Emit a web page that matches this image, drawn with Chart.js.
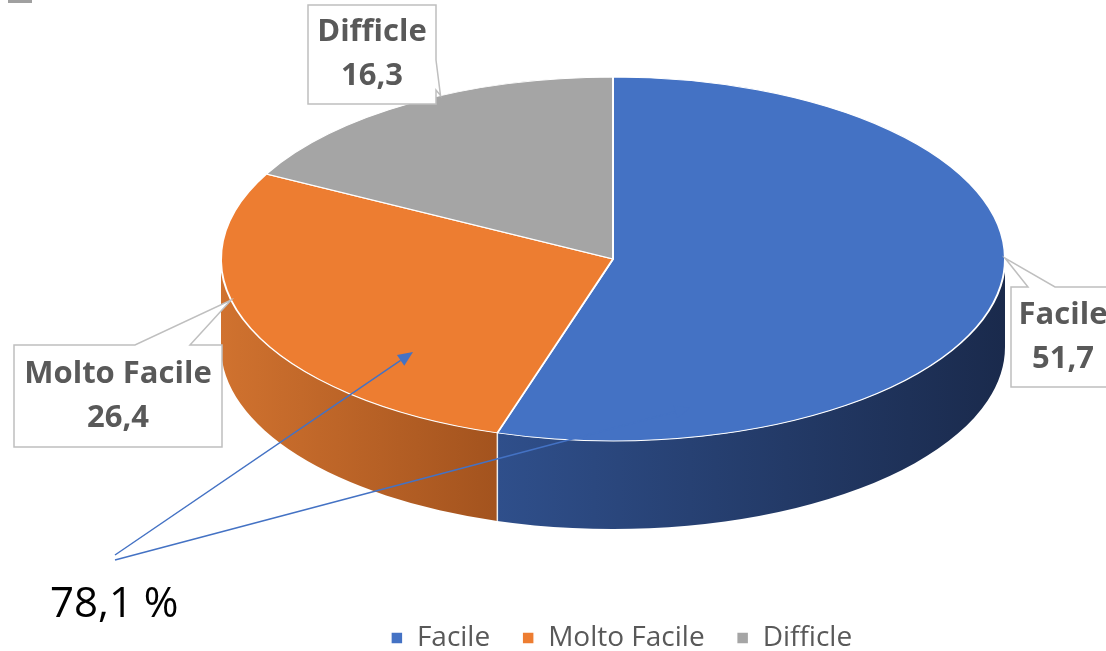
<!DOCTYPE html>
<html><head><meta charset="utf-8">
<script src="https://cdn.jsdelivr.net/npm/chart.js@4.4.0/dist/chart.umd.min.js"></script>
<style>html,body{margin:0;padding:0;background:#fff;overflow:hidden}#wrap{width:1106px;height:651px;position:relative}</style>
</head><body><div id="wrap"><canvas id="c" width="1106" height="651"></canvas></div>
<script>
// ---- data ----
const categories = ['Facile', 'Molto Facile', 'Difficle'];
const values = [51.7, 26.4, 16.3];
const topColors = ['#4472c4', '#ed7d31', '#a5a5a5'];
const sideLight = ['#2f4f8b', '#d0722f', '#8c8c8c'];
const sideDark = ['#1a2a4c', '#a3531e', '#6e6e6e'];
// the highlighted share: Facile + Molto Facile
const highlightShare = values[0] + values[1];

// ---- layout (not data) ----
const G = {cx: 613, cy: 259, rx: 392, ry: 182, depth: 88};
const callouts = [
  {box: [1011, 287, 104, 100], frac: 0.455, side: 'top', anchors: [[1028, 287], [1055, 287]]},
  {box: [14, 345, 208, 102], frac: 0.594, side: 'top', anchors: [[135, 345], [190, 345]]},
  {box: [308, 5, 128, 99], frac: 0.58, side: 'right', anchors: [[436, 60], [436, 90]]}
];
const fmt = v => v.toFixed(1).replace('.', ',');

function ell(t, dy) { return [G.cx + G.rx * Math.cos(t), G.cy + G.ry * Math.sin(t) + (dy || 0)]; }

const pie3d = {
  id: 'pie3d',
  beforeDatasetsDraw(chart) {
    const ctx = chart.ctx;
    const meta = chart.getDatasetMeta(0);
    const {cx, cy, rx, ry, depth} = G;
    const seams = [];
    meta.data.forEach((arc, i) => {
      const a = arc.startAngle, b = arc.endAngle;
      for (let k = -1; k <= 1; k++) {
        const lo = Math.max(a, k * 2 * Math.PI), hi = Math.min(b, k * 2 * Math.PI + Math.PI);
        if (hi <= lo) continue;
        const xL = cx + rx * Math.cos(hi), xR = cx + rx * Math.cos(lo);
        const g = ctx.createLinearGradient(xL, 0, xR, 0);
        g.addColorStop(0, sideLight[i]);
        g.addColorStop(1, sideDark[i]);
        ctx.save();
        ctx.beginPath();
        ctx.ellipse(cx, cy, rx, ry, 0, lo, hi, false);
        ctx.ellipse(cx, cy + depth, rx, ry, 0, hi, lo, true);
        ctx.closePath();
        ctx.fillStyle = g;
        ctx.fill();
        ctx.restore();
        if (lo > k * 2 * Math.PI + 0.001) seams.push(lo);
      }
    });
    ctx.save();
    ctx.strokeStyle = 'rgba(255,255,255,0.85)';
    ctx.lineWidth = 1.5;
    seams.forEach(t => {
      const p = ell(t);
      ctx.beginPath(); ctx.moveTo(p[0], p[1]); ctx.lineTo(p[0], p[1] + depth); ctx.stroke();
    });
    ctx.restore();
    const a0 = meta.data[0];
    ctx.save();
    ctx.translate(cx, cy);
    ctx.scale(rx / a0.outerRadius, ry / a0.outerRadius);
    ctx.translate(-a0.x, -a0.y);
  },
  afterDatasetsDraw(chart) { chart.ctx.restore(); },
  afterDraw(chart) {
    const ctx = chart.ctx;
    const meta = chart.getDatasetMeta(0);
    // small grey mark at the top-left corner
    ctx.save();
    ctx.fillStyle = '#a0a0a0';
    ctx.fillRect(8, 0, 24, 3);
    ctx.restore();
    // callouts
    callouts.forEach((c, i) => {
      const arc = meta.data[i];
      const t = arc.startAngle + c.frac * (arc.endAngle - arc.startAngle);
      const tip = ell(t);
      const [x, y, w, h] = c.box;
      const [p1, p2] = c.anchors;
      ctx.save();
      ctx.beginPath();
      ctx.moveTo(x, y);
      if (c.side === 'top') { ctx.lineTo(p1[0], p1[1]); ctx.lineTo(tip[0], tip[1]); ctx.lineTo(p2[0], p2[1]); }
      ctx.lineTo(x + w, y);
      if (c.side === 'right') { ctx.lineTo(p1[0], p1[1]); ctx.lineTo(tip[0], tip[1]); ctx.lineTo(p2[0], p2[1]); }
      ctx.lineTo(x + w, y + h);
      ctx.lineTo(x, y + h);
      ctx.closePath();
      ctx.fillStyle = '#ffffff';
      ctx.fill();
      ctx.strokeStyle = '#bfbfbf';
      ctx.lineWidth = 1.5;
      ctx.stroke();
      ctx.fillStyle = '#595959';
      ctx.font = 'bold 31px "Open Sans"';
      ctx.textAlign = 'center';
      ctx.textBaseline = 'middle';
      const mx = x + w / 2, my = y + h / 2;
      ctx.fillText(chart.data.labels[i], mx, my - 22);
      ctx.fillText(fmt(chart.data.datasets[0].data[i]), mx, my + 22);
      ctx.restore();
    });
    // arrows
    const arrow = (x0, y0, x1, y1, alpha) => {
      ctx.save();
      ctx.globalAlpha = alpha;
      ctx.strokeStyle = '#4472c4';
      ctx.fillStyle = '#4472c4';
      ctx.lineWidth = 1.5;
      const ang = Math.atan2(y1 - y0, x1 - x0);
      const L = 15, W = 6.5;
      const bx = x1 - L * Math.cos(ang), by = y1 - L * Math.sin(ang);
      ctx.beginPath(); ctx.moveTo(x0, y0); ctx.lineTo(bx, by); ctx.stroke();
      ctx.beginPath();
      ctx.moveTo(x1, y1);
      ctx.lineTo(bx + W * Math.sin(ang), by - W * Math.cos(ang));
      ctx.lineTo(bx - W * Math.sin(ang), by + W * Math.cos(ang));
      ctx.closePath(); ctx.fill();
      ctx.restore();
    };
    arrow(115, 555, 413, 352, 1);
    arrow(115, 560, 690, 408, 1);
    ctx.save();
    ctx.fillStyle = '#000000';
    ctx.font = '42px "Open Sans"';
    ctx.textAlign = 'left';
    ctx.textBaseline = 'alphabetic';
    ctx.fillText(fmt(highlightShare) + ' %', 50, 617);
    ctx.restore();
  }
};

new Chart(document.getElementById('c'), {
  type: 'pie',
  data: {
    labels: categories,
    datasets: [{
      data: values,
      backgroundColor: topColors,
      borderColor: '#ffffff',
      borderWidth: 1.5
    }]
  },
  options: {
    responsive: false,
    animation: false,
    devicePixelRatio: 1,
    events: [],
    layout: {padding: {left: 137, right: 0, top: 0, bottom: -11}},
    plugins: {
      legend: {
        position: 'bottom',
        labels: {
          boxWidth: 12, boxHeight: 12, padding: 32,
          color: '#595959',
          font: {family: 'Open Sans', size: 28}
        }
      },
      tooltip: {enabled: false}
    }
  },
  plugins: [pie3d]
});
</script>
</body></html>
